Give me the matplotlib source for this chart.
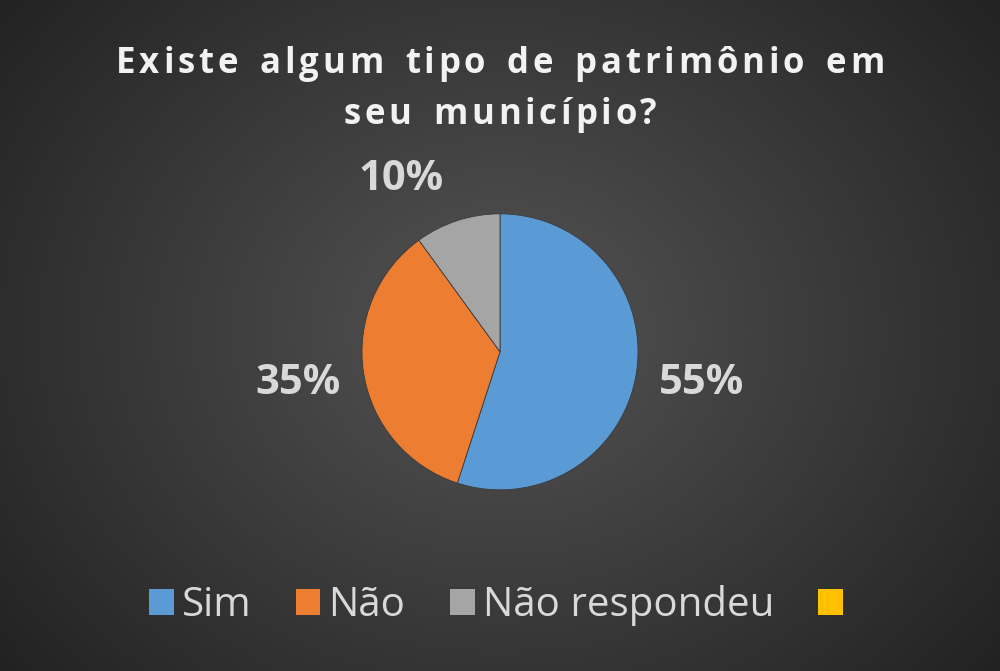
import matplotlib
matplotlib.use('Agg')

import numpy as np
import matplotlib.pyplot as plt
from matplotlib.patches import Patch
from matplotlib.font_manager import FontProperties

# data
labels = ["Sim", "Não", "Não respondeu", ""]
values = [55, 35, 10, 0]
colors = ["#5B9BD5", "#ED7D31", "#A5A5A5", "#FFC000"]
title_lines = ["Existe algum tipo de patrimônio em", "seu município?"]

plt.rcParams['font.family'] = ['Open Sans', 'DejaVu Sans']

W, H = 1000, 671
fig = plt.figure(figsize=(W / 100, H / 100), dpi=100)

# radial gradient background
bg = fig.add_axes([0, 0, 1, 1])
yy, xx = np.mgrid[0:H, 0:W]
d = np.sqrt(((xx - 500) / 620.0) ** 2 + ((yy - 330) / 520.0) ** 2)
shade = np.clip(0.33 - 0.19 * d, 0.12, 0.34)
bg.imshow(np.dstack([shade] * 3), extent=[0, 1, 0, 1], aspect='auto')
bg.axis('off')


def spaced_text(line, y_px, fp, spacing, word_gap, color):
    """Draw a line of text with extra letter spacing, centred on the figure."""
    renderer = fig.canvas.get_renderer()

    def width(s):
        return renderer.get_text_width_height_descent(s, fp, ismath=False)[0]

    adv = []
    for ch in line:
        if ch == ' ':
            adv.append(width("a a") - width("aa") + word_gap)
        else:
            adv.append(width(ch))
    total = sum(adv) + spacing * (len(line) - 1)
    x = W / 2 - total / 2
    for ch, a in zip(line, adv):
        if ch != ' ':
            fig.text(x / W, 1 - y_px / H, ch, fontproperties=fp, color=color,
                     ha='left', va='baseline')
        x += a + spacing


title_fp = FontProperties(family=['Open Sans', 'DejaVu Sans'], weight='bold', size=25)
spaced_text(title_lines[0], 73, title_fp, 3.8, 5, '#f2f2f2')
spaced_text(title_lines[1], 124, title_fp, 3.8, 5, '#f2f2f2')

ax = fig.add_axes([0.362, 1 - 0.73, 0.276, 0.276 * W / H])
ax.set_aspect('equal')
wedges, _ = ax.pie(values[:3], colors=colors[:3], startangle=90, counterclock=False,
                   wedgeprops=dict(edgecolor='#3a3a3a', linewidth=0.6))
ax.set_xlim(-1, 1)
ax.set_ylim(-1, 1)

# percentage labels outside
total = sum(values)
for w, v in zip(wedges, values):
    ang = np.deg2rad((w.theta1 + w.theta2) / 2)
    r = 1.48
    x, y = r * np.cos(ang), r * np.sin(ang)
    if v == 10:
        x, y = -0.72, 1.25
    ax.text(x, y, f"{v / total:.0%}", ha='center', va='center',
            color='#d9d9d9', fontsize=30, fontweight='bold', clip_on=False)

handles = [Patch(facecolor=c, edgecolor='none') for c in colors]
fig.legend(handles, labels, loc='center', bbox_to_anchor=(0.5, 0.098), ncol=4,
           frameon=False, fontsize=29, labelcolor='#d9d9d9',
           handlelength=0.62, handleheight=0.62, handletextpad=0.2, columnspacing=1.1)

fig.savefig('out.png', dpi=100)
